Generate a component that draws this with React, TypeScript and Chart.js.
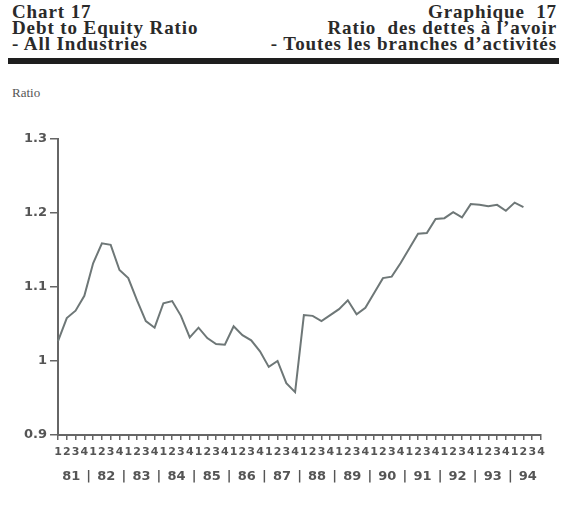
import React, { useEffect, useRef } from "react";
import { Chart, registerables } from "chart.js";

Chart.register(...registerables);

const years = ["81", "82", "83", "84", "85", "86", "87", "88", "89", "90", "91", "92", "93", "94"];
const quarters = ["1", "2", "3", "4"];
const ratioValues = [
  1.027, 1.058, 1.068, 1.088, 1.132, 1.159, 1.157, 1.123, 1.112, 1.082,
  1.054, 1.045, 1.078, 1.081, 1.061, 1.032, 1.045, 1.031, 1.023, 1.022,
  1.047, 1.035, 1.028, 1.013, 0.992, 1.0, 0.97, 0.958, 1.062, 1.061,
  1.054, 1.062, 1.07, 1.082, 1.063, 1.072, 1.092, 1.112, 1.114, 1.132,
  1.152, 1.172, 1.173, 1.192, 1.193, 1.201, 1.194, 1.212, 1.211, 1.209,
  1.211, 1.203, 1.214, 1.208,
];
const yTicks = [0.9, 1.0, 1.1, 1.2, 1.3];

const quarterLabels: string[] = [];
years.forEach(() => quarters.forEach((q) => quarterLabels.push(q)));

const TICK_COLOR = "#555";
const AXIS_COLOR = "#666";

const yearRowPlugin = {
  id: "yearRow",
  afterDraw(chart: any) {
    const xs = chart.scales.x;
    const ctx = chart.ctx;
    const yRow = 477;
    ctx.save();
    ctx.fillStyle = TICK_COLOR;
    ctx.font = "bold 13px 'DejaVu Sans'";
    ctx.textAlign = "center";
    ctx.textBaseline = "middle";
    years.forEach((yr, i) => {
      const a = xs.getPixelForValue(i * 4);
      const b = xs.getPixelForValue(i * 4 + 3);
      ctx.fillText(yr, (a + b) / 2, yRow);
      if (i < years.length - 1) {
        const c = xs.getPixelForValue(i * 4 + 4);
        ctx.fillText("|", (b + c) / 2, yRow);
      }
    });
    ctx.restore();
  },
};

export default function App() {
  const canvasRef = useRef<HTMLCanvasElement | null>(null);

  useEffect(() => {
    if (!canvasRef.current) return;
    const chart = new Chart(canvasRef.current, {
      type: "line",
      data: {
        labels: quarterLabels,
        datasets: [
          {
            data: ratioValues,
            borderColor: "#6e7777",
            borderWidth: 2,
            pointRadius: 0,
            tension: 0,
            fill: false,
          },
        ],
      },
      options: {
        animation: false,
        responsive: false,
        maintainAspectRatio: false,
        layout: { padding: { left: 0, top: 139, right: 28, bottom: 0 } },
        plugins: { legend: { display: false }, tooltip: { enabled: false }, title: { display: false } },
        scales: {
          x: {
            type: "category",
            offset: false,
            grid: { drawOnChartArea: false, drawTicks: true, tickLength: 5, color: AXIS_COLOR, lineWidth: 1.5 },
            border: { display: true, color: AXIS_COLOR, width: 2 },
            ticks: {
              autoSkip: false,
              maxRotation: 0,
              minRotation: 0,
              padding: 6,
              color: TICK_COLOR,
              font: { family: "'DejaVu Sans'", size: 11, weight: "bold" },
            },
            afterFit(scale: any) {
              scale.height = 74;
            },
          },
          y: {
            min: 0.9,
            max: 1.3,
            grid: { drawOnChartArea: false, drawTicks: true, tickLength: 8, color: AXIS_COLOR, lineWidth: 1.5 },
            border: { display: true, color: AXIS_COLOR, width: 2 },
            afterBuildTicks(scale: any) {
              scale.ticks = yTicks.map((v) => ({ value: v }));
            },
            ticks: {
              padding: 3,
              color: TICK_COLOR,
              font: { family: "'DejaVu Sans'", size: 13, weight: "bold" },
              callback: (v: any) => String(Number(Number(v).toFixed(1))),
            },
            afterFit(scale: any) {
              scale.width = 58;
            },
          },
        },
      },
      plugins: [yearRowPlugin],
    } as any);
    return () => chart.destroy();
  }, []);

  const serif = "'Liberation Serif', 'Times New Roman', serif";
  const headerLine: React.CSSProperties = {
    fontFamily: serif,
    fontSize: 19,
    fontWeight: "bold",
    lineHeight: "16px",
    color: "#2a2a2a",
    whiteSpace: "pre",
    letterSpacing: "0.9px",
  };

  return (
    <div style={{ position: "fixed", left: 0, top: 0, width: 569, height: 509, background: "#fff", overflow: "hidden" }}>
      <div style={{ position: "absolute", left: 12, top: 4 }}>
        <div style={headerLine}>Chart 17</div>
        <div style={headerLine}>Debt to Equity Ratio</div>
        <div style={headerLine}>- All Industries</div>
      </div>
      <div style={{ position: "absolute", right: 12, top: 4, textAlign: "right" }}>
        <div style={headerLine}>{"Graphique  17"}</div>
        <div style={headerLine}>{"Ratio  des dettes à l’avoir"}</div>
        <div style={headerLine}>{"- Toutes les branches d’activités"}</div>
      </div>
      <div style={{ position: "absolute", left: 8, top: 58, width: 551, height: 6, background: "#1e1e1e" }} />
      <div style={{ position: "absolute", left: 12, top: 85, fontFamily: serif, fontSize: 13, color: "#555" }}>Ratio</div>
      <canvas ref={canvasRef} width={569} height={509} style={{ position: "absolute", left: 0, top: 0 }} />
    </div>
  );
}
